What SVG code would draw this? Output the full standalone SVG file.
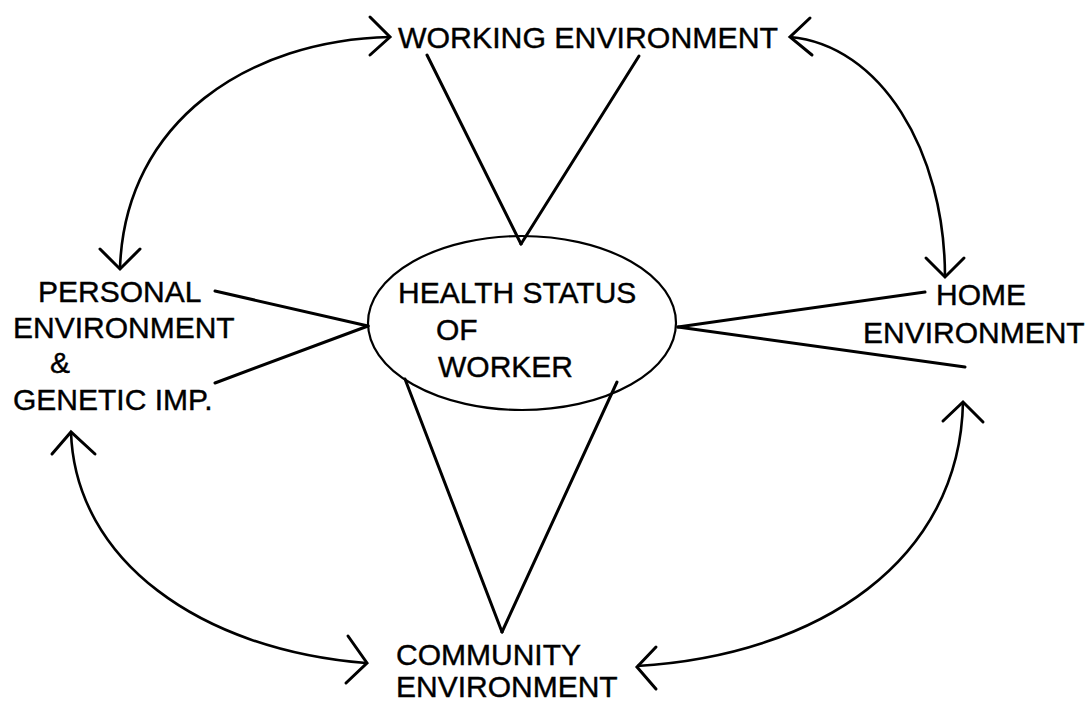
<svg xmlns="http://www.w3.org/2000/svg" width="1085" height="704" viewBox="0 0 1085 704">
<style>
text{font-family:"Liberation Sans",Arial,sans-serif;font-size:30px;fill:#000;stroke:#000;stroke-width:0.4}
.ln{stroke:#000;stroke-width:3;fill:none;stroke-linecap:round}
.cv{stroke:#000;stroke-width:2.6;fill:none}
.ah{stroke:#000;stroke-width:3;fill:none;stroke-linecap:round;stroke-linejoin:miter}
</style>
<rect width="1085" height="704" fill="#fff"/>
<g id="connectors">
<line class="ln" x1="427" y1="55" x2="521" y2="244"/>
<line class="ln" x1="639" y1="56" x2="521" y2="244"/>
<line class="ln" x1="215" y1="291" x2="368" y2="326"/>
<line class="ln" x1="215" y1="383" x2="368" y2="326"/>
<line class="ln" x1="925" y1="292" x2="678" y2="327"/>
<line class="ln" x1="965" y1="367" x2="678" y2="327"/>
<line class="ln" x1="405" y1="379" x2="502" y2="632"/>
<line class="ln" x1="617" y1="382" x2="502" y2="632"/>
<path class="cv" d="M 390 37 C 250 40, 125 120, 120 268"/>
<polyline class="ah" points="370,17 390,37 370,55"/>
<polyline class="ah" points="100,249 120,269 140,249"/>
<path class="cv" d="M 790 37 C 880 45, 945 150, 945 277"/>
<polyline class="ah" points="810,18 790,37 812,55"/>
<polyline class="ah" points="926,258 945,277 964,258"/>
<path class="cv" d="M 71 432 C 75 560, 200 650, 366 663"/>
<polyline class="ah" points="52,454 71,432 95,454"/>
<polyline class="ah" points="348,636 367,663 346,683"/>
<path class="cv" d="M 963 402 C 960 560, 820 655, 637 666"/>
<polyline class="ah" points="943,421 963,402 983,422"/>
<polyline class="ah" points="656,647 637,667 656,689"/>
</g>
<g id="node-health">
<ellipse cx="522" cy="323" rx="154" ry="87" fill="none" stroke="#000" stroke-width="2.2"/>
<text x="398" y="303">HEALTH STATUS</text>
<text x="436" y="340">OF</text>
<text x="438" y="377">WORKER</text>
</g>
<g id="node-working">
<text x="398" y="48" textLength="380" lengthAdjust="spacingAndGlyphs">WORKING ENVIRONMENT</text>
</g>
<g id="node-personal">
<text x="38" y="302">PERSONAL</text>
<text x="13" y="338">ENVIRONMENT</text>
<text x="50" y="373">&amp;</text>
<text x="13" y="410">GENETIC IMP.</text>
</g>
<g id="node-home">
<text x="936" y="305">HOME</text>
<text x="863" y="343">ENVIRONMENT</text>
</g>
<g id="node-community">
<text x="396" y="665">COMMUNITY</text>
<text x="396" y="697">ENVIRONMENT</text>
</g>
</svg>
